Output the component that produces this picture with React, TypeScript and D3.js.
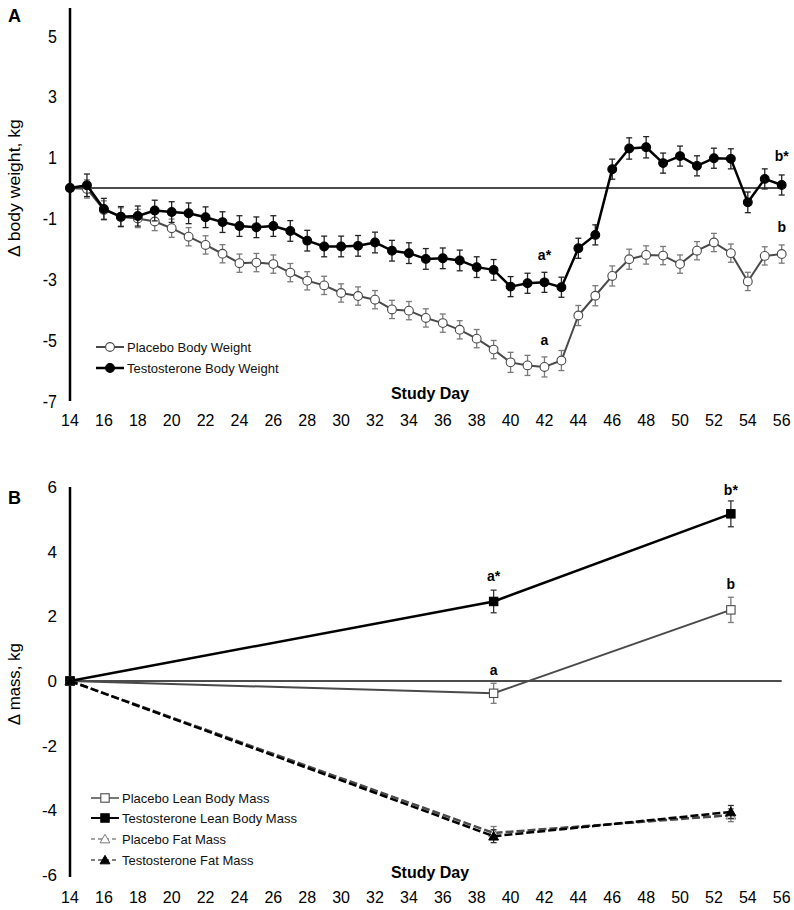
import React from 'react';
import * as d3 from 'd3';

// ---------- Panel A data ----------
const daysA = [14, 15, 16, 17, 18, 19, 20, 21, 22, 23, 24, 25, 26, 27, 28, 29, 30, 31, 32, 33, 34, 35,
  36, 37, 38, 39, 40, 41, 42, 43, 44, 45, 46, 47, 48, 49, 50, 51, 52, 53, 54, 55, 56];
const placeboBW = [0, -0.03, -0.72, -0.95, -1.0, -1.1, -1.32, -1.6, -1.87, -2.16, -2.47, -2.45, -2.5, -2.78,
  -3.05, -3.2, -3.45, -3.55, -3.67, -3.99, -4.03, -4.27, -4.44, -4.66, -4.95, -5.31, -5.73, -5.83, -5.88,
  -5.67, -4.19, -3.54, -2.89, -2.34, -2.2, -2.22, -2.5, -2.06, -1.79, -2.14, -3.07, -2.23, -2.17];
const placeboBWse = [0, 0.3, 0.3, 0.3, 0.3, 0.3, 0.3, 0.3, 0.3, 0.3, 0.3, 0.3, 0.3, 0.3, 0.3, 0.3, 0.3, 0.3,
  0.3, 0.3, 0.3, 0.3, 0.3, 0.3, 0.3, 0.3, 0.33, 0.33, 0.33, 0.33, 0.33, 0.33, 0.33, 0.33, 0.3, 0.3, 0.3,
  0.3, 0.3, 0.3, 0.3, 0.3, 0.3];
const testoBW = [0, 0.09, -0.69, -0.94, -0.92, -0.74, -0.79, -0.83, -0.96, -1.12, -1.25, -1.29, -1.25, -1.41,
  -1.73, -1.92, -1.92, -1.9, -1.79, -2.06, -2.14, -2.33, -2.31, -2.38, -2.6, -2.69, -3.24, -3.13, -3.1,
  -3.26, -1.98, -1.54, 0.62, 1.3, 1.34, 0.82, 1.05, 0.73, 0.98, 0.96, -0.47, 0.3, 0.1];
const testoBWse = [0, 0.37, 0.35, 0.33, 0.33, 0.34, 0.34, 0.34, 0.34, 0.34, 0.34, 0.34, 0.34, 0.34, 0.34, 0.34,
  0.34, 0.34, 0.34, 0.34, 0.34, 0.34, 0.34, 0.34, 0.34, 0.34, 0.33, 0.33, 0.33, 0.33, 0.33, 0.33, 0.33, 0.35,
  0.35, 0.33, 0.33, 0.33, 0.33, 0.33, 0.34, 0.33, 0.33];

// ---------- Panel B data ----------
const daysB = [14, 39, 53];
const placeboLean = [0, -0.38, 2.2];
const placeboLeanSe = [0, 0.31, 0.39];
const testoLean = [0, 2.46, 5.17];
const testoLeanSe = [0, 0.35, 0.4];
const placeboFat = [0, -4.7, -4.15];
const placeboFatSe = [0, 0.2, 0.2];
const testoFat = [0, -4.8, -4.05];
const testoFatSe = [0, 0.2, 0.2];

const xTicks = [14, 16, 18, 20, 22, 24, 26, 28, 30, 32, 34, 36, 38, 40, 42, 44, 46, 48, 50, 52, 54, 56];
const yTicksA = [5, 3, 1, -1, -3, -5, -7];
const yTicksB = [6, 4, 2, 0, -2, -4, -6];

const FONT = 'Arial, "Liberation Sans", Helvetica, sans-serif';
const GRAY = '#4a4a4a';
const ERRGRAY = '#7a7a7a';

type Pt = { x: number; y: number; e: number };
const zip = (xs: number[], ys: number[], es: number[]): Pt[] => xs.map((x, i) => ({ x, y: ys[i], e: es[i] }));

const x = d3.scaleLinear().domain([14, 56]).range([70, 781.7]);
const yA = d3.scaleLinear().domain([-7, 6]).range([401, 5.5]);
const yB = d3.scaleLinear().domain([-6, 6]).range([875, 487]);

function ErrorBars({ pts, y, color }: { pts: Pt[]; y: d3.ScaleLinear<number, number>; color: string }) {
  return (
    <g stroke={color} strokeWidth={1.3}>
      {pts.filter(p => p.e > 0).map((p, i) => (
        <g key={i}>
          <line x1={x(p.x)} x2={x(p.x)} y1={y(p.y + p.e)} y2={y(p.y - p.e)} />
          <line x1={x(p.x) - 3} x2={x(p.x) + 3} y1={y(p.y + p.e)} y2={y(p.y + p.e)} />
          <line x1={x(p.x) - 3} x2={x(p.x) + 3} y1={y(p.y - p.e)} y2={y(p.y - p.e)} />
        </g>
      ))}
    </g>
  );
}

function Marker({ kind, cx, cy, fill, stroke }: { kind: string; cx: number; cy: number; fill: string; stroke: string }) {
  if (kind === 'circle') return <circle cx={cx} cy={cy} r={4.4} fill={fill} stroke={stroke} strokeWidth={1.1} />;
  if (kind === 'square') return <rect x={cx - 4.2} y={cy - 4.2} width={8.4} height={8.4} fill={fill} stroke={stroke} strokeWidth={1.1} />;
  const sym = d3.symbol().type(d3.symbolTriangle).size(42)();
  return <path d={sym || ''} transform={`translate(${cx},${cy + 1})`} fill={fill} stroke={stroke} strokeWidth={1} />;
}

function Series({ pts, y, lineColor, width, dash, kind, fill, mstroke, errColor }: any) {
  const line = d3.line<Pt>().x(d => x(d.x)).y(d => y(d.y));
  return (
    <g>
      <ErrorBars pts={pts} y={y} color={errColor} />
      <path d={line(pts) || ''} fill="none" stroke={lineColor} strokeWidth={width} strokeDasharray={dash} strokeLinejoin="round" />
      {pts.map((p: Pt, i: number) => (
        <Marker key={i} kind={kind} cx={x(p.x)} cy={y(p.y)} fill={fill} stroke={mstroke} />
      ))}
    </g>
  );
}

function LegendItem({ lx, ly, label, kind, fill, mstroke, lineColor, dash, width }: any) {
  return (
    <g>
      <line x1={lx - 14} x2={lx + 14} y1={ly} y2={ly} stroke={lineColor} strokeWidth={width} strokeDasharray={dash} />
      <Marker kind={kind} cx={lx} cy={ly} fill={fill} stroke={mstroke} />
      <text x={lx + 17} y={ly + 4.5} fontSize={13} fontFamily={FONT} fill="#111">{label}</text>
    </g>
  );
}

export default function App() {
  const ptsPB = zip(daysA, placeboBW, placeboBWse);
  const ptsTB = zip(daysA, testoBW, testoBWse);
  const ptsPL = zip(daysB, placeboLean, placeboLeanSe);
  const ptsTL = zip(daysB, testoLean, testoLeanSe);
  const ptsPF = zip(daysB, placeboFat, placeboFatSe);
  const ptsTF = zip(daysB, testoFat, testoFatSe);

  return (
    <svg width={794} height={910} style={{ position: 'absolute', left: 0, top: 0, background: '#fff' }} fontFamily={FONT}>
      <rect x={0} y={0} width={794} height={910} fill="#fff" />

      {/* ---------------- Panel A ---------------- */}
      <text x={8} y={22} fontSize={18} fontWeight="bold">A</text>
      <text transform={`translate(20,${yA(0)}) rotate(-90) scale(1.1,1)`} textAnchor="middle" fontSize={16}>Δ body weight, kg</text>
      {yTicksA.map(t => (
        <text key={t} transform={`translate(57,${yA(t)}) scale(1,1.2)`} y={5.5} textAnchor="end" fontSize={16}>{t}</text>
      ))}
      {xTicks.map(t => (
        <text key={t} x={x(t)} y={426} textAnchor="middle" fontSize={16}>{t}</text>
      ))}
      <line x1={x(14)} x2={x(14)} y1={8} y2={yA(-7)} stroke="#000" strokeWidth={2.5} />
      <line x1={x(14)} x2={x(56)} y1={yA(0)} y2={yA(0)} stroke="#111" strokeWidth={1.6} />
      <text x={430} y={399} textAnchor="middle" fontSize={16} fontWeight="bold">Study Day</text>

      <Series pts={ptsPB} y={yA} lineColor={GRAY} width={2} kind="circle" fill="#fff" mstroke={GRAY} errColor={ERRGRAY} />
      <Series pts={ptsTB} y={yA} lineColor="#000" width={2.5} kind="circle" fill="#000" mstroke="#000" errColor="#222" />

      <text x={x(42)} y={yA(-2.35)} textAnchor="middle" fontSize={14} fontWeight="bold">a*</text>
      <text x={x(42)} y={yA(-5.15)} textAnchor="middle" fontSize={14} fontWeight="bold">a</text>
      <text x={x(56)} y={yA(0.9)} textAnchor="middle" fontSize={14} fontWeight="bold">b*</text>
      <text x={x(56)} y={yA(-1.45)} textAnchor="middle" fontSize={14} fontWeight="bold">b</text>

      <LegendItem lx={110} ly={347} label="Placebo Body Weight" kind="circle" fill="#fff" mstroke={GRAY} lineColor={GRAY} width={2} />
      <LegendItem lx={110} ly={368} label="Testosterone Body Weight" kind="circle" fill="#000" mstroke="#000" lineColor="#000" width={2.5} />

      {/* ---------------- Panel B ---------------- */}
      <text x={8} y={504} fontSize={18} fontWeight="bold">B</text>
      <text transform={`translate(20,${yB(-0.1)}) rotate(-90) scale(1.05,1)`} textAnchor="middle" fontSize={16}>Δ mass, kg</text>
      {yTicksB.map(t => (
        <text key={t} x={57} y={yB(t) + 6} textAnchor="end" fontSize={17}>{t}</text>
      ))}
      {xTicks.map(t => (
        <text key={t} x={x(t)} y={903} textAnchor="middle" fontSize={16}>{t}</text>
      ))}
      <line x1={x(14)} x2={x(14)} y1={yB(6)} y2={yB(-6) + 2} stroke="#000" strokeWidth={2.5} />
      <line x1={x(14)} x2={x(56)} y1={yB(0)} y2={yB(0)} stroke="#111" strokeWidth={1.6} />
      <text x={430} y={878} textAnchor="middle" fontSize={16} fontWeight="bold">Study Day</text>

      <Series pts={ptsPL} y={yB} lineColor={GRAY} width={2} kind="square" fill="#fff" mstroke={GRAY} errColor={ERRGRAY} />
      <Series pts={ptsTL} y={yB} lineColor="#000" width={2.5} kind="square" fill="#000" mstroke="#000" errColor="#333" />
      <Series pts={ptsPF} y={yB} lineColor={GRAY} width={2.5} dash="8,3" kind="triangle" fill="#fff" mstroke={ERRGRAY} errColor={ERRGRAY} />
      <Series pts={ptsTF} y={yB} lineColor="#000" width={2.5} dash="8,3" kind="triangle" fill="#000" mstroke="#000" errColor="#333" />

      <text x={x(39)} y={yB(3.1)} textAnchor="middle" fontSize={14} fontWeight="bold">a*</text>
      <text x={x(39)} y={yB(0.2)} textAnchor="middle" fontSize={14} fontWeight="bold">a</text>
      <text x={x(53)} y={yB(5.75)} textAnchor="middle" fontSize={14} fontWeight="bold">b*</text>
      <text x={x(53)} y={yB(2.85)} textAnchor="middle" fontSize={14} fontWeight="bold">b</text>

      <LegendItem lx={105} ly={798} label="Placebo Lean Body Mass" kind="square" fill="#fff" mstroke={GRAY} lineColor={GRAY} width={1.5} />
      <LegendItem lx={105} ly={818} label="Testosterone Lean Body Mass" kind="square" fill="#000" mstroke="#000" lineColor="#000" width={2} />
      <LegendItem lx={105} ly={839} label="Placebo Fat Mass" kind="triangle" fill="#fff" mstroke={ERRGRAY} lineColor={GRAY} width={1.2} dash="4,3" />
      <LegendItem lx={105} ly={860} label="Testosterone Fat Mass" kind="triangle" fill="#000" mstroke="#000" lineColor="#000" width={1.2} dash="4,3" />
    </svg>
  );
}
